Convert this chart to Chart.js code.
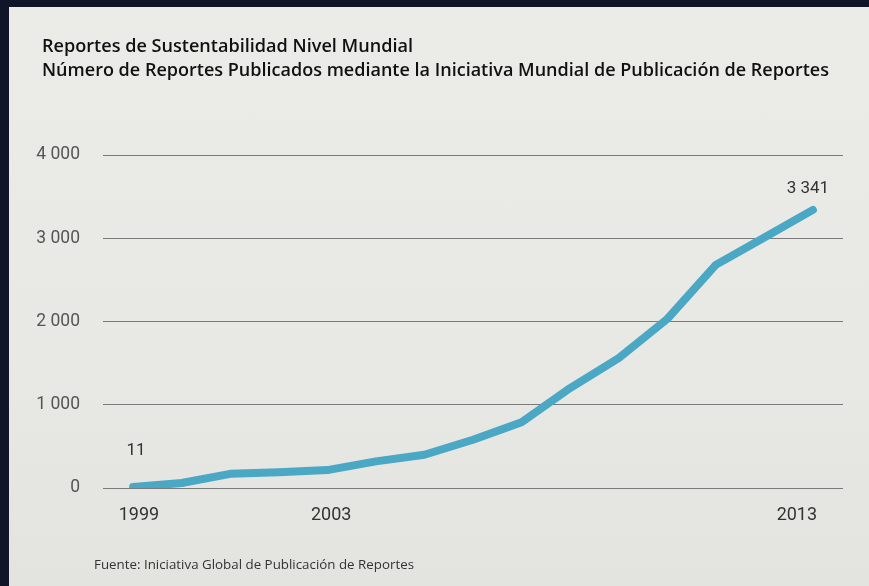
<!DOCTYPE html>
<html>
<head>
<meta charset="utf-8">
<script src="https://cdn.jsdelivr.net/npm/chart.js@4.4.1/dist/chart.umd.min.js"></script>
<style>
  html, body { margin:0; padding:0; width:869px; height:586px; overflow:hidden; background:#111529; }
  #panel { position:absolute; left:9px; top:7px; width:860px; height:579px;
           background: linear-gradient(180deg, #ebebe8 0%, #e8e8e5 60%, #e3e3df 100%); }
  #wrap { position:absolute; left:0; top:0; width:869px; height:586px; }
  .t { position:absolute; white-space:nowrap; transform-origin:0 50%; color:#111; }
  #t1, #t2 { font-family:"Open Sans", sans-serif; font-weight:600; font-size:17.5px; }
  #t1 { left:42px; top:33px; }
  #t2 { left:42px; top:57px; }
  #src { left:94px; top:556px; font-family:"Open Sans", sans-serif; font-size:12.5px; color:#333; }
</style>
</head>
<body>
<div id="panel"></div>
<div id="wrap"><canvas id="c" width="869" height="586"></canvas></div>
<div class="t" id="t1" data-w="371">Reportes de Sustentabilidad Nivel Mundial</div>
<div class="t" id="t2" data-w="787">Número de Reportes Publicados mediante la Iniciativa Mundial de Publicación de Reportes</div>
<div class="t" id="src" data-w="320">Fuente: Iniciativa Global de Publicación de Reportes</div>
<script>
// ---- data ----
const years = [1999,2000,2001,2002,2003,2004,2005,2006,2007,2008,2009,2010,2011,2012,2013];
const reports = [11,60,170,190,215,320,400,580,790,1200,1560,2030,2680,3010,3341];
const xTickLabels = [1999, 2003, 2013];
const yTickValues = [0, 1000, 2000, 3000, 4000];
const valueNotes = ["11", "3 341"]; // shown at first and last points

// fit text widths
document.querySelectorAll('.t').forEach(el => {
  const w = el.getBoundingClientRect().width;
  const target = +el.dataset.w;
  el.style.transform = 'scaleX(' + (target / w) + ')';
});

function fmt(v){ return String(v).replace(/\B(?=(\d{3})+(?!\d))/g, ' '); }

// small horizontal nudges (in year units) of the year labels, as in the print
const xLabelNudge = [0.12, 0.08, -0.33];

const notesPlugin = {
  id: 'notes',
  afterDatasetsDraw(chart) {
    const ctx = chart.ctx;
    const xs = chart.scales.x, ys = chart.scales.y;
    const idx = [0, reports.length - 1];
    const offs = [36, 21];
    const dx = [3, -5];
    ctx.save();
    ctx.font = '17px Roboto, sans-serif';
    ctx.fillStyle = '#333';
    ctx.textAlign = 'center';
    ctx.textBaseline = 'middle';
    idx.forEach((i, k) => {
      const x = xs.getPixelForValue(years[i]) + dx[k];
      const y = ys.getPixelForValue(reports[i]) - offs[k];
      ctx.fillText(valueNotes[k], x, y);
    });
    ctx.restore();
  }
};

new Chart(document.getElementById('c'), {
  type: 'line',
  data: {
    datasets: [{
      data: years.map((y, i) => ({ x: y, y: reports[i] })),
      borderColor: '#4aa8c4',
      borderWidth: 8,
      pointRadius: 0,
      borderCapStyle: 'round',
      borderJoinStyle: 'round',
      tension: 0,
      fill: false
    }]
  },
  options: {
    responsive: false,
    animation: false,
    devicePixelRatio: 1,
    layout: { padding: { top: 155, right: 26, left: 0, bottom: 0 } },
    plugins: { legend: { display: false }, tooltip: { enabled: false }, title: { display: false } },
    scales: {
      x: {
        type: 'linear',
        min: 1998.38,
        max: 2013.62,
        grid: { display: false },
        border: { display: false },
        afterBuildTicks: (axis) => { axis.ticks = xTickLabels.map((v, i) => ({ value: v + xLabelNudge[i] })); },
        afterFit: (axis) => { axis.height = 98; },
        ticks: {
          padding: 9,
          maxRotation: 0,
          autoSkip: false,
          color: '#333',
          font: { family: 'Roboto, sans-serif', size: 18 },
          callback: (v) => String(Math.round(v))
        }
      },
      y: {
        min: 0,
        max: 4000,
        afterBuildTicks: (axis) => { axis.ticks = yTickValues.map(v => ({ value: v })); },
        afterFit: (axis) => { axis.width = 103; },
        grid: { color: '#7a7a7a', lineWidth: 1, drawTicks: false },
        border: { display: false },
        ticks: {
          padding: 23,
          color: '#555',
          font: { family: 'Roboto, sans-serif', size: 17.5 },
          callback: (v) => fmt(v)
        }
      }
    }
  },
  plugins: [notesPlugin]
});
</script>
</body>
</html>
